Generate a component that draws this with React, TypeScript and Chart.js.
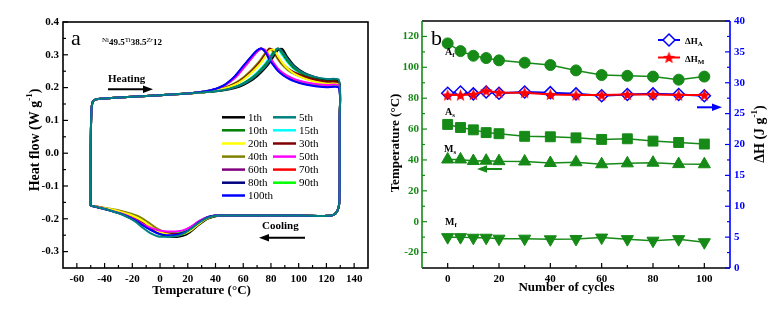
import React, { useEffect, useRef } from 'react';
import { Chart, registerables } from 'chart.js';

Chart.register(...registerables);

const SERIF = "'Liberation Serif', 'Times New Roman', serif";
const GREEN = '#168a16';
const BLUE = '#0000ff';

// ===================== Panel a : DSC curves =====================
const cycleLabels = ['1th', '5th', '10th', '15th', '20th', '30th', '40th', '50th', '60th', '70th', '80th', '90th', '100th'];
const cycleColors = ['#000000', '#008080', '#008000', '#00ffff', '#ffff00', '#800000', '#808000', '#ff00ff', '#800080', '#ff0000', '#000080', '#00ff00', '#0000ff'];
const cycleOrder = [5, 0, 6, 9, 3, 4, 8, 2, 10, 11, 12, 7, 1];

// heating start (left vertical and flat baseline)
const heatStartX = [-50, -50, -49.6, -48.7, -46.5, -40, -20, 0, 20];
const heatStartY = [-0.16, 0.0, 0.12, 0.155, 0.164, 0.167, 0.172, 0.177, 0.182];
// heating peak region
const heatPeakX = [36, 46, 54, 60, 66, 70, 73, 76, 79, 82, 85, 88, 92, 97, 104, 112, 120, 129];
const heat1 = [0.187, 0.192, 0.199, 0.208, 0.222, 0.235, 0.247, 0.26, 0.276, 0.296, 0.315, 0.318, 0.292, 0.266, 0.245, 0.232, 0.225, 0.221];
const heat5 = [0.187, 0.193, 0.201, 0.211, 0.226, 0.24, 0.252, 0.265, 0.283, 0.303, 0.319, 0.31, 0.287, 0.263, 0.243, 0.232, 0.226, 0.223];
const heat10 = [0.187, 0.193, 0.202, 0.213, 0.229, 0.243, 0.256, 0.27, 0.288, 0.308, 0.319, 0.305, 0.281, 0.258, 0.239, 0.228, 0.222, 0.219];
const heat15 = [0.188, 0.194, 0.203, 0.214, 0.231, 0.246, 0.259, 0.274, 0.293, 0.312, 0.318, 0.3, 0.277, 0.255, 0.237, 0.226, 0.22, 0.217];
const heat20 = [0.188, 0.197, 0.209, 0.224, 0.245, 0.262, 0.277, 0.295, 0.313, 0.316, 0.296, 0.277, 0.258, 0.242, 0.228, 0.218, 0.212, 0.208];
const heat30 = [0.188, 0.198, 0.211, 0.227, 0.249, 0.267, 0.283, 0.301, 0.318, 0.313, 0.292, 0.275, 0.259, 0.246, 0.234, 0.224, 0.218, 0.215];
const heat40 = [0.189, 0.199, 0.214, 0.231, 0.254, 0.272, 0.288, 0.306, 0.319, 0.307, 0.287, 0.27, 0.254, 0.241, 0.229, 0.219, 0.214, 0.211];
const heat50 = [0.191, 0.205, 0.229, 0.258, 0.289, 0.309, 0.318, 0.314, 0.294, 0.275, 0.258, 0.247, 0.236, 0.226, 0.217, 0.211, 0.208, 0.206];
const heat60 = [0.191, 0.206, 0.232, 0.262, 0.292, 0.311, 0.319, 0.31, 0.287, 0.27, 0.254, 0.243, 0.232, 0.222, 0.213, 0.207, 0.204, 0.202];
const heat70 = [0.188, 0.197, 0.21, 0.226, 0.247, 0.265, 0.281, 0.299, 0.317, 0.312, 0.292, 0.274, 0.257, 0.243, 0.23, 0.22, 0.213, 0.21];
const heat80 = [0.191, 0.207, 0.234, 0.264, 0.294, 0.312, 0.319, 0.309, 0.286, 0.269, 0.253, 0.242, 0.231, 0.221, 0.212, 0.206, 0.203, 0.201];
const heat90 = [0.191, 0.205, 0.23, 0.26, 0.29, 0.31, 0.318, 0.312, 0.291, 0.273, 0.257, 0.246, 0.235, 0.225, 0.216, 0.21, 0.207, 0.204];
const heat100 = [0.191, 0.207, 0.235, 0.266, 0.296, 0.314, 0.319, 0.308, 0.284, 0.267, 0.251, 0.24, 0.229, 0.219, 0.21, 0.204, 0.201, 0.199];
// right vertical drop and flat cooling baseline
const dropX = [129.5, 129.5, 129.2, 128, 125.5, 121, 100, 70, 45];
const dropY = [0.1, -0.1, -0.155, -0.175, -0.187, -0.191, -0.19, -0.19, -0.19];
// cooling dip region
const coolX = [40, 34, 28, 23, 18, 13, 8, 3, -2, -7, -12, -17, -22, -28, -35, -42, -48];
const cool1 = [-0.192, -0.2, -0.218, -0.236, -0.25, -0.255, -0.255, -0.25, -0.24, -0.226, -0.212, -0.2, -0.19, -0.181, -0.173, -0.167, -0.162];
const cool5 = [-0.191, -0.197, -0.212, -0.228, -0.243, -0.252, -0.255, -0.255, -0.253, -0.244, -0.229, -0.211, -0.198, -0.186, -0.176, -0.168, -0.162];
const cool10 = [-0.191, -0.198, -0.215, -0.232, -0.246, -0.253, -0.254, -0.251, -0.243, -0.23, -0.215, -0.202, -0.192, -0.182, -0.174, -0.167, -0.162];
const cool15 = [-0.191, -0.198, -0.214, -0.231, -0.245, -0.252, -0.253, -0.25, -0.243, -0.23, -0.216, -0.203, -0.193, -0.183, -0.174, -0.167, -0.162];
const cool20 = [-0.191, -0.199, -0.216, -0.233, -0.245, -0.25, -0.249, -0.245, -0.237, -0.223, -0.208, -0.196, -0.187, -0.179, -0.171, -0.166, -0.161];
const cool30 = [-0.191, -0.198, -0.214, -0.23, -0.241, -0.246, -0.246, -0.243, -0.236, -0.224, -0.21, -0.198, -0.189, -0.18, -0.172, -0.166, -0.161];
const cool40 = [-0.192, -0.2, -0.217, -0.234, -0.243, -0.246, -0.245, -0.24, -0.23, -0.215, -0.201, -0.19, -0.183, -0.176, -0.17, -0.165, -0.161];
const cool50 = [-0.19, -0.195, -0.207, -0.222, -0.233, -0.238, -0.239, -0.238, -0.234, -0.227, -0.217, -0.205, -0.194, -0.184, -0.175, -0.168, -0.162];
const cool60 = [-0.19, -0.195, -0.208, -0.223, -0.235, -0.24, -0.241, -0.24, -0.236, -0.229, -0.219, -0.207, -0.196, -0.185, -0.176, -0.169, -0.162];
const cool70 = [-0.191, -0.197, -0.212, -0.228, -0.24, -0.245, -0.246, -0.244, -0.238, -0.227, -0.213, -0.2, -0.19, -0.181, -0.173, -0.167, -0.161];
const cool80 = [-0.19, -0.196, -0.21, -0.226, -0.239, -0.245, -0.247, -0.246, -0.241, -0.232, -0.22, -0.207, -0.196, -0.185, -0.176, -0.168, -0.162];
const cool90 = [-0.19, -0.196, -0.209, -0.225, -0.237, -0.243, -0.245, -0.243, -0.238, -0.229, -0.217, -0.204, -0.194, -0.184, -0.175, -0.168, -0.162];
const cool100 = [-0.19, -0.196, -0.211, -0.228, -0.241, -0.248, -0.25, -0.249, -0.244, -0.234, -0.221, -0.207, -0.196, -0.185, -0.176, -0.168, -0.162];

const heatSeries = [heat1, heat5, heat10, heat15, heat20, heat30, heat40, heat50, heat60, heat70, heat80, heat90, heat100];
const coolSeries = [cool1, cool5, cool10, cool15, cool20, cool30, cool40, cool50, cool60, cool70, cool80, cool90, cool100];

const aXTicks = [-60, -40, -20, 0, 20, 40, 60, 80, 100, 120, 140];
const aXLabels = ['-60', '-40', '-20', '0', '20', '40', '60', '80', '100', '120', '140'];
const aXMinor = [-50, -30, -10, 10, 30, 50, 70, 90, 110, 130];
const aYTicks = [-0.3, -0.2, -0.1, 0, 0.1, 0.2, 0.3, 0.4];
const aYLabels = ['-0.3', '-0.2', '-0.1', '0.0', '0.1', '0.2', '0.3', '0.4'];
const aYMinor = [-0.25, -0.15, -0.05, 0.05, 0.15, 0.25, 0.35];

// ===================== Panel b : transformation temperatures =====================
const cycles = [0, 5, 10, 15, 20, 30, 40, 50, 60, 70, 80, 90, 100];
const Af = [115.5, 110.5, 107.5, 106, 104.5, 103, 101.5, 98, 95, 94.5, 94, 92, 94];
const As = [63, 61, 59.5, 57.7, 57, 55.3, 55, 54.3, 53.3, 53.7, 52.2, 51.3, 50.3];
const Ms = [40.3, 40.3, 39.3, 39.5, 39.2, 39, 38, 38.5, 37.2, 37.8, 38.2, 37.3, 37.2];
const Mf = [-10, -10, -10.4, -10.4, -11, -11, -11.4, -11.2, -10.3, -11.3, -12.3, -11.3, -13.3];
const dHA = [28.3, 28.5, 28.2, 28.5, 28.3, 28.5, 28.4, 28.2, 27.9, 28.1, 28.2, 28.1, 27.9];
const dHM = [28.0, 28.0, 28.1, 28.7, 28.4, 28.4, 28.1, 28.0, 28.0, 28.1, 28.1, 28.0, 28.0];

const bXTicks = [0, 20, 40, 60, 80, 100];
const bXLabels = ['0', '20', '40', '60', '80', '100'];
const bXMinor = [10, 30, 50, 70, 90];
const bYTicks = [-20, 0, 20, 40, 60, 80, 100, 120];
const bYLabels = ['-20', '0', '20', '40', '60', '80', '100', '120'];
const bYMinor = [-10, 10, 30, 50, 70, 90, 110];
const bY2Ticks = [0, 5, 10, 15, 20, 25, 30, 35, 40];
const bY2Labels = ['0', '5', '10', '15', '20', '25', '30', '35', '40'];
const bY2Minor = [2.5, 7.5, 12.5, 17.5, 22.5, 27.5, 32.5, 37.5];

// ===================== helpers =====================
type Part = { t: string; f: string; dy?: number };
function rich(ctx: CanvasRenderingContext2D, parts: Part[], x: number, y: number, center = false) {
  ctx.textAlign = 'left';
  let total = 0;
  for (const p of parts) { ctx.font = p.f; total += ctx.measureText(p.t).width; }
  let cx = center ? x - total / 2 : x;
  for (const p of parts) {
    ctx.font = p.f;
    ctx.fillText(p.t, cx, y + (p.dy || 0));
    cx += ctx.measureText(p.t).width;
  }
}
function arrow(ctx: CanvasRenderingContext2D, x1: number, x2: number, y: number, color: string) {
  const dir = Math.sign(x2 - x1);
  const head = 10, hw = 3.8;
  ctx.strokeStyle = color; ctx.fillStyle = color; ctx.lineWidth = 2;
  ctx.beginPath(); ctx.moveTo(x1, y); ctx.lineTo(x2 - dir * head, y); ctx.stroke();
  ctx.beginPath(); ctx.moveTo(x2, y); ctx.lineTo(x2 - dir * head, y - hw); ctx.lineTo(x2 - dir * head, y + hw); ctx.closePath(); ctx.fill();
}
function hTick(ctx: CanvasRenderingContext2D, x: number, y: number, len: number) {
  ctx.beginPath(); ctx.moveTo(x, y); ctx.lineTo(x + len, y); ctx.stroke();
}
function vTick(ctx: CanvasRenderingContext2D, x: number, y: number, len: number) {
  ctx.beginPath(); ctx.moveTo(x, y); ctx.lineTo(x, y + len); ctx.stroke();
}
function makeStar(size: number, color: string) {
  const c = document.createElement('canvas');
  c.width = size; c.height = size;
  const g = c.getContext('2d')!;
  const cx = size / 2, cy = size / 2 + 0.5, R = size / 2, r = R * 0.42;
  g.beginPath();
  for (let i = 0; i < 10; i++) {
    const rad = i % 2 ? r : R;
    const a = -Math.PI / 2 + (i * Math.PI) / 5;
    g.lineTo(cx + rad * Math.cos(a), cy + rad * Math.sin(a));
  }
  g.closePath();
  g.fillStyle = color; g.fill();
  return c;
}
const fixTicks = (vals: number[]) => (s: any) => { s.ticks = vals.map((v) => ({ value: v })); };

function loopPoints(hy: number[], cy: number[]) {
  const pts: { x: number; y: number }[] = [];
  heatStartX.forEach((x, i) => pts.push({ x, y: heatStartY[i] }));
  heatPeakX.forEach((x, i) => pts.push({ x, y: hy[i] }));
  dropX.forEach((x, i) => pts.push({ x, y: dropY[i] }));
  coolX.forEach((x, i) => pts.push({ x, y: cy[i] }));
  pts.push({ x: heatStartX[0], y: heatStartY[0] });
  return pts;
}

// ===================== plugins =====================
const panelAPlugin = {
  id: 'panelA',
  afterDraw(chart: any) {
    const { ctx, chartArea: a, scales } = chart;
    const xs = scales.x, ys = scales.y;
    ctx.save();
    ctx.strokeStyle = '#000';
    ctx.lineWidth = 1.6;
    ctx.strokeRect(a.left, a.top, a.right - a.left, a.bottom - a.top);
    ctx.lineWidth = 1.2;
    aXTicks.forEach((v) => vTick(ctx, xs.getPixelForValue(v), a.bottom, -5));
    aXMinor.forEach((v) => vTick(ctx, xs.getPixelForValue(v), a.bottom, -3));
    aYTicks.forEach((v) => hTick(ctx, a.left, ys.getPixelForValue(v), 5));
    aYMinor.forEach((v) => hTick(ctx, a.left, ys.getPixelForValue(v), 3));

    ctx.fillStyle = '#000';
    ctx.textBaseline = 'alphabetic';
    // panel letter
    rich(ctx, [{ t: 'a', f: `22px ${SERIF}` }], 71, 45);
    // composition
    rich(ctx, [
      { t: 'Ni', f: `7px ${SERIF}`, dy: -3 },
      { t: '49.5', f: `bold 9px ${SERIF}` },
      { t: 'Ti', f: `7px ${SERIF}`, dy: -3 },
      { t: '38.5', f: `bold 9px ${SERIF}` },
      { t: 'Zr', f: `italic 7px ${SERIF}`, dy: -3 },
      { t: '12', f: `bold 9px ${SERIF}` },
    ], 102, 45);
    // heating / cooling
    rich(ctx, [{ t: 'Heating', f: `bold 11px ${SERIF}` }], 108, 82);
    arrow(ctx, 108, 153, 89.3, '#000');
    ctx.fillStyle = '#000';
    rich(ctx, [{ t: 'Cooling', f: `bold 11px ${SERIF}` }], 262, 229);
    arrow(ctx, 305, 259, 237.7, '#000');

    // legend
    const rows = [117.3, 130.3, 143.5, 156.6, 169.6, 182.7, 195.5];
    ctx.textBaseline = 'middle';
    ctx.font = `11px ${SERIF}`;
    cycleLabels.forEach((lab, i) => {
      const col = i % 2, row = Math.floor(i / 2);
      const lx = col === 0 ? 222 : 273;
      const y = rows[row];
      ctx.strokeStyle = cycleColors[i];
      ctx.lineWidth = 2.5;
      ctx.beginPath(); ctx.moveTo(lx, y); ctx.lineTo(lx + 23, y); ctx.stroke();
      ctx.fillStyle = '#000';
      ctx.textAlign = 'left';
      ctx.fillText(lab, lx + 26, y + 0.5);
    });

    // axis titles
    ctx.fillStyle = '#000';
    ctx.textBaseline = 'middle';
    rich(ctx, [{ t: 'Temperature (°C)', f: `bold 13px ${SERIF}` }], 201.5, 291, true);
    ctx.save();
    ctx.translate(35, 140);
    ctx.rotate(-Math.PI / 2);
    rich(ctx, [
      { t: 'Heat flow (W g', f: `bold 14px ${SERIF}` },
      { t: '-1', f: `bold 9px ${SERIF}`, dy: -5 },
      { t: ')', f: `bold 14px ${SERIF}` },
    ], 0, 0, true);
    ctx.restore();
    ctx.restore();
  },
};

const OX = 380;
function makePanelBPlugin(star: HTMLCanvasElement) {
  return {
    id: 'panelB',
    afterDraw(chart: any) {
      const { ctx, chartArea: a, scales } = chart;
      const xs = scales.x, ys = scales.y, y2 = scales.y2;
      ctx.save();
      ctx.lineWidth = 1.6;
      ctx.strokeStyle = '#000';
      ctx.beginPath(); ctx.moveTo(a.left, a.top); ctx.lineTo(a.right, a.top); ctx.stroke();
      ctx.beginPath(); ctx.moveTo(a.left, a.bottom); ctx.lineTo(a.right, a.bottom); ctx.stroke();
      ctx.strokeStyle = GREEN;
      ctx.beginPath(); ctx.moveTo(a.left, a.top); ctx.lineTo(a.left, a.bottom); ctx.stroke();
      ctx.strokeStyle = BLUE;
      ctx.beginPath(); ctx.moveTo(a.right, a.top); ctx.lineTo(a.right, a.bottom); ctx.stroke();

      ctx.lineWidth = 1.2;
      ctx.strokeStyle = '#000';
      bXTicks.forEach((v) => vTick(ctx, xs.getPixelForValue(v), a.bottom, -5));
      bXMinor.forEach((v) => vTick(ctx, xs.getPixelForValue(v), a.bottom, -3));
      ctx.strokeStyle = GREEN;
      bYTicks.forEach((v) => hTick(ctx, a.left, ys.getPixelForValue(v), 5));
      bYMinor.forEach((v) => hTick(ctx, a.left, ys.getPixelForValue(v), 3));
      ctx.strokeStyle = BLUE;
      bY2Ticks.forEach((v) => hTick(ctx, a.right, y2.getPixelForValue(v), -5));
      bY2Minor.forEach((v) => hTick(ctx, a.right, y2.getPixelForValue(v), -3));

      ctx.fillStyle = '#000';
      ctx.textBaseline = 'alphabetic';
      rich(ctx, [{ t: 'b', f: `22px ${SERIF}` }], 431 - OX, 45);
      const big = `bold 10px ${SERIF}`, sub = `bold 7px ${SERIF}`;
      rich(ctx, [{ t: 'A', f: big }, { t: 'f', f: sub, dy: 2 }], 445 - OX, 55);
      rich(ctx, [{ t: 'A', f: big }, { t: 's', f: sub, dy: 2 }], 445 - OX, 115);
      rich(ctx, [{ t: 'M', f: big }, { t: 's', f: sub, dy: 2 }], 444 - OX, 152);
      rich(ctx, [{ t: 'M', f: big }, { t: 'f', f: sub, dy: 2 }], 445 - OX, 225);

      // legend
      const lx1 = 658 - OX, lx2 = 680 - OX, mx = 669 - OX;
      ctx.lineWidth = 2;
      ctx.strokeStyle = BLUE;
      ctx.beginPath(); ctx.moveTo(lx1, 40); ctx.lineTo(lx2, 40); ctx.stroke();
      ctx.fillStyle = '#fff'; ctx.lineWidth = 1.5;
      ctx.beginPath(); ctx.moveTo(mx, 34); ctx.lineTo(mx + 6, 40); ctx.lineTo(mx, 46); ctx.lineTo(mx - 6, 40); ctx.closePath();
      ctx.fill(); ctx.stroke();
      ctx.strokeStyle = '#ff0000'; ctx.lineWidth = 2;
      ctx.beginPath(); ctx.moveTo(lx1, 57.5); ctx.lineTo(lx2, 57.5); ctx.stroke();
      ctx.drawImage(star, mx - star.width / 2, 57.5 - star.height / 2);
      ctx.fillStyle = '#000';
      rich(ctx, [{ t: 'ΔH', f: `bold 9px ${SERIF}` }, { t: 'A', f: `bold 7px ${SERIF}`, dy: 2 }], 685 - OX, 44);
      rich(ctx, [{ t: 'ΔH', f: `bold 9px ${SERIF}` }, { t: 'M', f: `bold 7px ${SERIF}`, dy: 2 }], 685 - OX, 61.5);

      arrow(ctx, 697 - OX, 722 - OX, 107.3, BLUE);
      arrow(ctx, 502 - OX, 477 - OX, 169, GREEN);

      // axis titles
      ctx.fillStyle = '#000';
      ctx.textBaseline = 'middle';
      rich(ctx, [{ t: 'Number of cycles', f: `bold 13px ${SERIF}` }], 566.5 - OX, 287.5, true);
      ctx.save();
      ctx.translate(396 - OX, 143);
      ctx.rotate(-Math.PI / 2);
      rich(ctx, [{ t: 'Temperature (°C)', f: `bold 13px ${SERIF}` }], 0, 0, true);
      ctx.restore();
      ctx.save();
      ctx.translate(760 - OX, 134);
      ctx.rotate(-Math.PI / 2);
      rich(ctx, [
        { t: 'ΔH (J g', f: `bold 14px ${SERIF}` },
        { t: '-1', f: `bold 9px ${SERIF}`, dy: -5 },
        { t: ')', f: `bold 14px ${SERIF}` },
      ], 0, 0, true);
      ctx.restore();
      ctx.restore();
    },
  };
}

const tickFont = { family: SERIF, size: 11, weight: 'bold' as const };

export default function App() {
  const refA = useRef<HTMLCanvasElement>(null);
  const refB = useRef<HTMLCanvasElement>(null);

  useEffect(() => {
    const star = makeStar(13, '#ff0000');

    const dsA = cycleLabels.map((lab, i) => ({
      label: lab,
      data: loopPoints(heatSeries[i], coolSeries[i]),
      borderColor: cycleColors[i],
      backgroundColor: cycleColors[i],
      borderWidth: 2,
      showLine: true,
      pointRadius: 0,
      tension: 0.25,
      order: cycleOrder[i],
    }));

    const chartA = new Chart(refA.current!, {
      type: 'scatter',
      data: { datasets: dsA as any },
      options: {
        animation: false,
        responsive: false,
        devicePixelRatio: 1,
        layout: { padding: { left: 0, right: 12, top: 22, bottom: 0 } },
        plugins: { legend: { display: false }, tooltip: { enabled: false } },
        scales: {
          x: {
            type: 'linear', min: -70, max: 150,
            grid: { display: false, drawTicks: false }, border: { display: false },
            ticks: { font: tickFont, color: '#000', padding: 5, autoSkip: false, maxRotation: 0, callback: (_v: any, i: number) => aXLabels[i] },
            afterBuildTicks: fixTicks(aXTicks),
            afterFit: (s: any) => { s.height = 42; },
          },
          y: {
            type: 'linear', min: -0.35, max: 0.4,
            grid: { display: false, drawTicks: false }, border: { display: false },
            ticks: { font: tickFont, color: '#000', padding: 4, autoSkip: false, callback: (_v: any, i: number) => aYLabels[i] },
            afterBuildTicks: fixTicks(aYTicks),
            afterFit: (s: any) => { s.width = 63; },
          },
        },
      },
      plugins: [panelAPlugin],
    } as any);

    const green = { borderColor: GREEN, backgroundColor: GREEN, borderWidth: 1.5, showLine: true, yAxisID: 'y', pointBorderWidth: 1 };
    const dsB = [
      { label: 'ΔHM', data: cycles.map((x, i) => ({ x, y: dHM[i] })), yAxisID: 'y2', borderColor: '#ff0000', backgroundColor: '#ff0000', borderWidth: 2, showLine: true, pointStyle: star, pointRadius: 6, order: 0 },
      { label: 'ΔHA', data: cycles.map((x, i) => ({ x, y: dHA[i] })), yAxisID: 'y2', borderColor: BLUE, backgroundColor: '#ffffff', borderWidth: 2, pointBorderColor: BLUE, pointBorderWidth: 1.5, showLine: true, pointStyle: 'rectRot', pointRadius: 6, order: 1 },
      { label: 'Af', data: cycles.map((x, i) => ({ x, y: Af[i] })), ...green, pointStyle: 'circle', pointRadius: 5.5, order: 2 },
      { label: 'As', data: cycles.map((x, i) => ({ x, y: As[i] })), ...green, pointStyle: 'rect', pointRadius: 7, order: 3 },
      { label: 'Ms', data: cycles.map((x, i) => ({ x, y: Ms[i] })), ...green, pointStyle: 'triangle', pointRadius: 7, order: 4 },
      { label: 'Mf', data: cycles.map((x, i) => ({ x, y: Mf[i] })), ...green, pointStyle: 'triangle', pointRotation: 180, pointRadius: 7, order: 5 },
    ];

    const chartB = new Chart(refB.current!, {
      type: 'scatter',
      data: { datasets: dsB as any },
      options: {
        animation: false,
        responsive: false,
        devicePixelRatio: 1,
        layout: { padding: { left: 0, right: 0, top: 21, bottom: 0 } },
        plugins: { legend: { display: false }, tooltip: { enabled: false } },
        scales: {
          x: {
            type: 'linear', min: -10, max: 110,
            grid: { display: false, drawTicks: false }, border: { display: false },
            ticks: { font: tickFont, color: '#000', padding: 5, autoSkip: false, maxRotation: 0, callback: (_v: any, i: number) => bXLabels[i] },
            afterBuildTicks: fixTicks(bXTicks),
            afterFit: (s: any) => { s.height = 42; },
          },
          y: {
            type: 'linear', position: 'left', min: -30, max: 130,
            grid: { display: false, drawTicks: false }, border: { display: false },
            ticks: { font: tickFont, color: GREEN, padding: 3, autoSkip: false, callback: (_v: any, i: number) => bYLabels[i] },
            afterBuildTicks: fixTicks(bYTicks),
            afterFit: (s: any) => { s.width = 422 - OX; },
          },
          y2: {
            type: 'linear', position: 'right', min: 0, max: 40,
            grid: { display: false, drawTicks: false }, border: { display: false },
            ticks: { font: tickFont, color: BLUE, padding: 4, autoSkip: false, callback: (_v: any, i: number) => bY2Labels[i] },
            afterBuildTicks: fixTicks(bY2Ticks),
            afterFit: (s: any) => { s.width = 396 - (730 - OX); },
          },
        },
      },
      plugins: [makePanelBPlugin(star)],
    } as any);

    return () => { chartA.destroy(); chartB.destroy(); };
  }, []);

  return (
    <div style={{ position: 'absolute', left: 0, top: 0, width: 776, height: 310, background: '#fff' }}>
      <canvas ref={refA} width={380} height={310} style={{ position: 'absolute', left: 0, top: 0, width: 380, height: 310 }} />
      <canvas ref={refB} width={396} height={310} style={{ position: 'absolute', left: OX, top: 0, width: 396, height: 310 }} />
    </div>
  );
}
